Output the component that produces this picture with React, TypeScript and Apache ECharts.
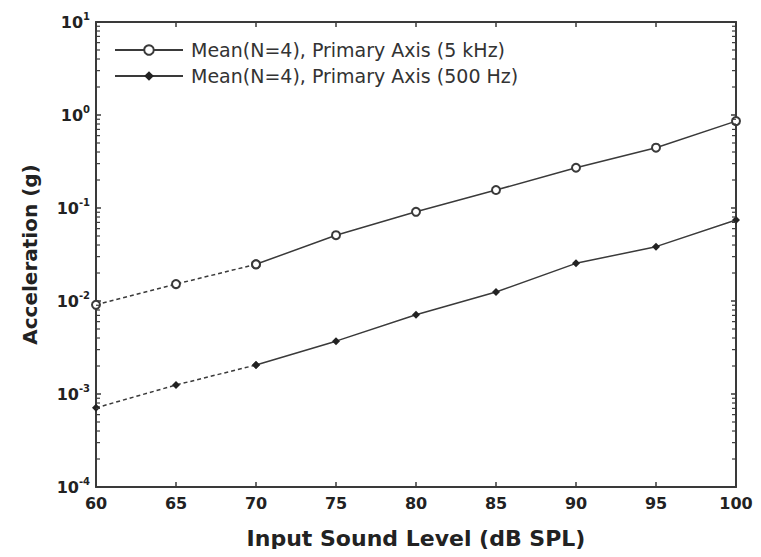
import React, { useEffect, useRef } from "react";
import * as echarts from "echarts";

const levels = [60, 65, 70, 75, 80, 85, 90, 95, 100];
const accel5k = [0.0091, 0.0152, 0.0248, 0.051, 0.091, 0.156, 0.271, 0.445, 0.86];
const accel500 = [0.00071, 0.00125, 0.00205, 0.0037, 0.0071, 0.0125, 0.0254, 0.0384, 0.0743];
const dashedUntil = 70;
const name5k = "Mean(N=4), Primary Axis (5 kHz)";
const name500 = "Mean(N=4), Primary Axis (500 Hz)";
const decades = [-4, -3, -2, -1, 0];
const minorMultipliers = [2, 3, 4, 5, 6, 7, 8, 9];

const INK = "#3a3a3a";
const FONT = "DejaVu Sans, Liberation Sans, sans-serif";

function pairs(xs: number[], ys: number[], pred: (x: number) => boolean) {
  const out: number[][] = [];
  xs.forEach((x, i) => {
    if (pred(x)) out.push([x, ys[i]]);
  });
  return out;
}

export default function App() {
  const ref = useRef<HTMLDivElement>(null);
  useEffect(() => {
    if (!ref.current) return;
    const chart = echarts.init(ref.current, null, { renderer: "svg" });

    const yLabel = {
      show: true,
      color: "#222",
      fontFamily: FONT,
      fontWeight: "bold" as const,
      margin: 6,
      formatter: (v: number) => `{b|10}{e|${Math.round(Math.log10(v))}}`,
      rich: {
        b: { fontSize: 16, fontWeight: "bold", fontFamily: FONT, color: "#222", lineHeight: 22 },
        e: { fontSize: 10, fontWeight: "bold", fontFamily: FONT, color: "#222", lineHeight: 12, verticalAlign: "top" },
      },
    };

    chart.setOption({
      animation: false,
      backgroundColor: "#fff",
      grid: { left: 96, right: 25, top: 22, bottom: 70 },
      legend: {
        data: [name5k, name500],
        orient: "vertical",
        left: 114,
        top: 40,
        padding: 0,
        itemWidth: 68,
        itemHeight: 12,
        itemGap: 6,
        textStyle: { fontSize: 19, lineHeight: 20, color: "#333", fontFamily: FONT, padding: [0, 0, 0, 3] },
      },
      xAxis: [
        {
          type: "value",
          min: 60,
          max: 100,
          interval: 5,
          name: "Input Sound Level (dB SPL)",
          nameLocation: "middle",
          nameGap: 40,
          nameTextStyle: { fontSize: 22, fontWeight: "bold", color: "#222", fontFamily: FONT },
          axisLine: { lineStyle: { color: INK, width: 2 } },
          axisTick: { inside: true, length: 5, lineStyle: { color: INK, width: 1.5 } },
          axisLabel: { fontSize: 16, fontWeight: "bold", color: "#222", fontFamily: FONT, margin: 8 },
          splitLine: { show: false },
        },
        {
          type: "value",
          position: "top",
          min: 60,
          max: 100,
          interval: 5,
          axisLine: { lineStyle: { color: INK, width: 2 } },
          axisTick: { inside: true, length: 5, lineStyle: { color: INK, width: 1.5 } },
          axisLabel: { show: false },
          splitLine: { show: false },
        },
      ],
      yAxis: [
        {
          type: "log",
          logBase: 10,
          min: 1e-4,
          max: 10,
          name: "Acceleration (g)",
          nameLocation: "middle",
          nameGap: 56,
          nameTextStyle: { fontSize: 20, fontWeight: "bold", color: "#222", fontFamily: FONT },
          axisLine: { lineStyle: { color: INK, width: 2 } },
          axisTick: { inside: true, length: 5, lineStyle: { color: INK, width: 1.5 } },
          axisLabel: yLabel,
          splitLine: { show: false },
        },
        {
          type: "log",
          logBase: 10,
          position: "right",
          min: 1e-4,
          max: 10,
          axisLine: { lineStyle: { color: INK, width: 2 } },
          axisTick: { inside: true, length: 5, lineStyle: { color: INK, width: 1.5 } },
          axisLabel: { show: false },
          splitLine: { show: false },
        },
      ],
      series: [
        {
          name: name5k,
          type: "line",
          data: pairs(levels, accel5k, (x) => x >= dashedUntil),
          symbol: "emptyCircle",
          symbolSize: 8,
          lineStyle: { color: INK, width: 1.5 },
          itemStyle: { color: INK, borderWidth: 1.2 },
        },
        {
          name: name5k + " (extrap)",
          type: "line",
          data: pairs(levels, accel5k, (x) => x <= dashedUntil),
          symbol: "emptyCircle",
          symbolSize: 8,
          lineStyle: { color: INK, width: 1.5, type: [4, 3] },
          itemStyle: { color: INK, borderWidth: 1.2 },
        },
        {
          name: name500,
          type: "line",
          data: pairs(levels, accel500, (x) => x >= dashedUntil),
          symbol: "diamond",
          symbolSize: 8,
          lineStyle: { color: INK, width: 1.5 },
          itemStyle: { color: "#222" },
        },
        {
          name: name500 + " (extrap)",
          type: "line",
          data: pairs(levels, accel500, (x) => x <= dashedUntil),
          symbol: "diamond",
          symbolSize: 8,
          lineStyle: { color: INK, width: 1.5, type: [4, 3] },
          itemStyle: { color: "#222" },
        },
      ],
    });

    // minor log ticks (2..9 per decade) on left and right axes, placed through the chart's own scales
    const ticks: any[] = [];
    decades.forEach((d) => {
      minorMultipliers.forEach((m) => {
        const v = m * Math.pow(10, d);
        const pl = chart.convertToPixel({ xAxisIndex: 0, yAxisIndex: 0 }, [60, v]) as number[];
        const pr = chart.convertToPixel({ xAxisIndex: 0, yAxisIndex: 0 }, [100, v]) as number[];
        if (pl && pr) {
          ticks.push({
            type: "line",
            silent: true,
            z: 10,
            shape: { x1: pl[0], y1: pl[1], x2: pl[0] + 4, y2: pl[1] },
            style: { stroke: INK, lineWidth: 1.2 },
          });
          ticks.push({
            type: "line",
            silent: true,
            z: 10,
            shape: { x1: pr[0] - 4, y1: pr[1], x2: pr[0], y2: pr[1] },
            style: { stroke: INK, lineWidth: 1.2 },
          });
        }
      });
    });
    chart.setOption({ graphic: ticks });

    return () => chart.dispose();
  }, []);
  return <div ref={ref} style={{ width: 761, height: 557, margin: -8 }} />;
}
